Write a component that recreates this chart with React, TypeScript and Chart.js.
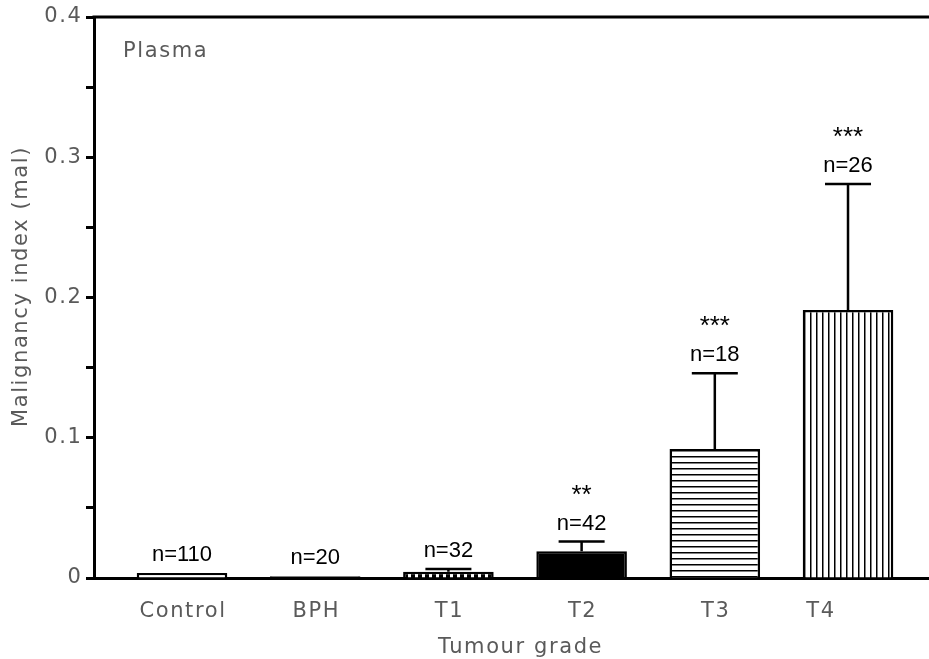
import React, { useEffect, useRef } from 'react';
import { Chart, registerables } from 'chart.js';

Chart.register(...registerables);

// ---- data ----
const categories = ['Control', 'BPH', 'T1', 'T2', 'T3', 'T4'];
const means = [0.0035, 0.0013, 0.0045, 0.019, 0.092, 0.191];
const errorTops = [0.0035, 0.0013, 0.0065, 0.026, 0.146, 0.281];
const sampleSizes = [110, 20, 32, 42, 18, 26];
const significance = ['', '', '', '**', '***', '***'];
const yTickValues = [0, 0.05, 0.1, 0.15, 0.2, 0.25, 0.3, 0.35, 0.4];
const xTitle = 'Tumour grade';
const yTitle = 'Malignancy index (mal)';
const panelLabel = 'Plasma';

const GREY = '#5a5a5a';
const LABEL_FONT = '"DejaVu Sans", sans-serif';
const NUM_FONT = '"Liberation Sans", Arial, sans-serif';
const SPACING = '1.6px';

function makePattern(kind: string): CanvasPattern | string {
  const c = document.createElement('canvas');
  const g = c.getContext('2d');
  if (!g) return '#fff';
  if (kind === 'h') {
    c.width = 8; c.height = 6;
    g.fillStyle = '#fff'; g.fillRect(0, 0, 8, 6);
    g.fillStyle = '#000'; g.fillRect(0, 0, 8, 1.5);
  } else if (kind === 'v') {
    c.width = 6; c.height = 8;
    g.fillStyle = '#fff'; g.fillRect(0, 0, 6, 8);
    g.fillStyle = '#000'; g.fillRect(0, 0, 1.5, 8);
  } else {
    c.width = 7; c.height = 7;
    g.fillStyle = '#000'; g.fillRect(0, 0, 7, 7);
    g.fillStyle = '#fff'; g.fillRect(2, 0, 3, 7);
  }
  return g.createPattern(c, 'repeat') || '#fff';
}

const annotatePlugin = {
  id: 'annotate',
  beforeDraw(chart: any) {
    (chart.ctx as any).letterSpacing = SPACING;
  },
  afterDraw(chart: any) {
    (chart.ctx as any).letterSpacing = '0px';
  },
  afterDatasetsDraw(chart: any) {
    const { ctx, chartArea, scales } = chart;
    const y = scales.y;
    const x = scales.x;
    ctx.save();
    // top frame line
    ctx.strokeStyle = '#000';
    ctx.lineWidth = 3;
    ctx.beginPath();
    ctx.moveTo(chartArea.left - 1.5, chartArea.top);
    ctx.lineTo(chartArea.right, chartArea.top);
    ctx.stroke();

    ctx.letterSpacing = '0px';
    const meta = chart.getDatasetMeta(0);
    meta.data.forEach((bar: any, i: number) => {
      const xc = bar.x;
      const yBar = bar.y;
      const yErr = y.getPixelForValue(errorTops[i]);
      if (errorTops[i] > means[i]) {
        ctx.strokeStyle = '#000';
        ctx.lineWidth = 2.5;
        ctx.beginPath();
        ctx.moveTo(xc, yBar);
        ctx.lineTo(xc, yErr);
        ctx.moveTo(xc - 23, yErr);
        ctx.lineTo(xc + 23, yErr);
        ctx.stroke();
      }
      const top = Math.min(yErr, yBar);
      ctx.fillStyle = '#000';
      ctx.textAlign = 'center';
      ctx.textBaseline = 'alphabetic';
      ctx.font = '22px ' + NUM_FONT;
      ctx.fillText('n=' + sampleSizes[i], xc, top - 12);
      if (significance[i]) {
        ctx.font = '26px ' + NUM_FONT;
        ctx.fillText(significance[i], xc, top - 39);
      }
    });

    // grey text
    ctx.letterSpacing = SPACING;
    ctx.fillStyle = GREY;
    ctx.font = '21px ' + LABEL_FONT;
    ctx.textAlign = 'center';
    ctx.textBaseline = 'alphabetic';
    categories.forEach((c, i) => {
      const shift = i === categories.length - 1 ? -28 : 0;
      ctx.fillText(c, x.getPixelForValue(i) + shift + 1, chartArea.bottom + 39);
    });
    ctx.fillText(xTitle, (chartArea.left + chartArea.right) / 2 + 9, chartArea.bottom + 75);

    ctx.save();
    ctx.translate(27, (chartArea.top + chartArea.bottom) / 2 - 11);
    ctx.rotate(-Math.PI / 2);
    ctx.fillText(yTitle, 0, 0);
    ctx.restore();

    ctx.textAlign = 'left';
    ctx.fillText(panelLabel, chartArea.left + 29, chartArea.top + 40);
    ctx.restore();
  },
};

export default function App() {
  const ref = useRef<HTMLCanvasElement>(null);
  useEffect(() => {
    if (!ref.current) return;
    const fills = ['#ffffff', '#000000', makePattern('d'), '#000000', makePattern('h'), makePattern('v')];
    const chart = new Chart(ref.current, {
      type: 'bar',
      data: {
        datasets: [
          {
            data: means.map((v, i) => ({ x: i, y: v })) as any,
            backgroundColor: fills as any,
            borderColor: '#000',
            borderWidth: 2.5,
            barPercentage: 0.68,
            categoryPercentage: 1,
          },
        ],
      },
      options: {
        animation: false,
        responsive: false,
        devicePixelRatio: 1,
        layout: { padding: { top: 17, right: 0, left: 0, bottom: 0 } },
        plugins: { legend: { display: false }, tooltip: { enabled: false } },
        scales: {
          x: {
            type: 'linear',
            offset: false,
            min: -0.6607,
            max: 5.608,
            afterBuildTicks: (s: any) => { s.ticks = categories.map((_, i) => ({ value: i })); },
            grid: { display: false, offset: false },
            border: { display: true, color: '#000', width: 3 },
            ticks: { display: false },
            afterFit: (s: any) => { s.height = 81; },
          },
          y: {
            type: 'linear',
            min: 0,
            max: 0.4,
            afterBuildTicks: (s: any) => { s.ticks = yTickValues.map((v) => ({ value: v })); },
            afterFit: (s: any) => { s.width = 94; },
            grid: {
              drawOnChartArea: false,
              drawTicks: true,
              tickLength: 8,
              tickWidth: 3,
              tickColor: '#000',
            },
            border: { display: true, color: '#000', width: 3 },
            ticks: {
              padding: 3.5,
              color: GREY,
              font: { family: LABEL_FONT, size: 21 },
              callback: (v: any) => {
                const n = Number(v);
                const k = Math.round(n * 100);
                if (k % 10 !== 0) return '';
                return k === 0 ? '0' : String(k / 100);
              },
            },
          },
        },
      },
      plugins: [annotatePlugin],
    });
    return () => chart.destroy();
  }, []);
  return (
    <div style={{ position: 'fixed', left: 0, top: 0, width: 929, height: 659, background: '#fff' }}>
      <canvas ref={ref} width={929} height={659} style={{ display: 'block', width: 929, height: 659 }} />
    </div>
  );
}
